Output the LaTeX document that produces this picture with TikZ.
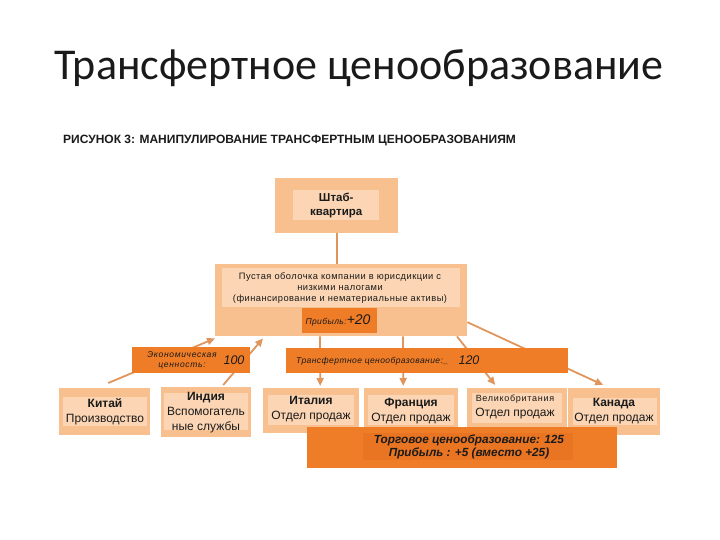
\documentclass[tikz,border=0pt]{standalone}
\usepackage{fontspec}
\setmainfont{Liberation Sans}
\newfontfamily\titlefont{Carlito}
\newfontfamily\spacedfont[LetterSpace=8]{Liberation Sans}
\newfontfamily\tightfont[LetterSpace=5]{Liberation Sans}
\usetikzlibrary{arrows.meta,backgrounds}
\definecolor{outerC}{HTML}{F8C08E}
\definecolor{innerC}{HTML}{FCD6B4}
\definecolor{darkC}{HTML}{EF7C26}
\definecolor{darkinC}{HTML}{E97422}
\definecolor{lineC}{HTML}{E0955C}
\definecolor{txtC}{HTML}{1A1A1A}
\tikzset{
  outerbox/.style={fill=outerC, draw=none, anchor=north west, inner sep=0pt},
  innerbox/.style={fill=innerC, draw=none, anchor=north west, inner sep=0pt},
  darkbox/.style={fill=darkC, draw=none, anchor=north west, inner sep=0pt},
  darkin/.style={fill=darkinC, draw=none, anchor=north west, inner sep=0pt},
  lbl/.style={text=txtC, inner sep=0pt, align=center},
  conn/.style={draw=lineC, line width=1.8pt},
  arr/.style={conn, -{Triangle[length=8pt,width=7pt]}}
}
\begin{document}
\begin{tikzpicture}[x=1pt,y=-1pt]
\useasboundingbox (0,0) rectangle (720,540);
% title
\node (title) [lbl, font=\titlefont\fontsize{44}{50}\selectfont] at (359,68) {Трансфертное ценообразование};
\node (sub) [lbl, anchor=west, font=\bfseries\fontsize{12}{14}\selectfont] at (63,141) {РИСУНОК 3: МАНИПУЛИРОВАНИЕ ТРАНСФЕРТНЫМ ЦЕНООБРАЗОВАНИЯМ};
% HQ
\node (hq) [outerbox, minimum width=123pt, minimum height=55pt] at (275,178) {};
\node (hqin) [innerbox, minimum width=86pt, minimum height=30pt] at (293,190) {};
\node (hqt) [lbl, font=\bfseries\fontsize{11.5}{14}\selectfont] at (hqin.center) {Штаб-\\квартира};
% shell
\node (shell) [outerbox, minimum width=252pt, minimum height=72pt] at (215,264) {};
\node (shellin) [innerbox, minimum width=238pt, minimum height=39pt] at (222,268) {};
\node (shellt) [lbl, font=\tightfont\fontsize{9.3}{10.8}\selectfont] at (340,288) {Пустая оболочка компании в юрисдикции с\\низкими налогами\\(финансирование и нематериальные активы)};
\node (profit) [darkbox, minimum width=75pt, minimum height=25pt] at (302,308) {};
\node (profitt) [lbl] at (338,320) {{\tightfont\itshape\fontsize{8.5}{9}\selectfont Прибыль:}{\itshape\fontsize{14}{15}\selectfont +20}};
% econ value
\node (econ) [darkbox, minimum width=118pt, minimum height=26pt] at (132,347) {};
\node (econt) [lbl, font=\spacedfont\itshape\fontsize{8.5}{10}\selectfont] at (182,360) {Экономическая\\ценность:};
\node (econv) [lbl, font=\itshape\fontsize{12.5}{13}\selectfont] at (234,360) {100};
% transfer
\node (tr) [darkbox, minimum width=282pt, minimum height=25pt] at (286,348) {};
\node (trt) [lbl, anchor=west, font=\tightfont\itshape\fontsize{8.5}{10}\selectfont] at (296,361) {Трансфертное ценообразование:\_};
\node (trv) [lbl, font=\itshape\fontsize{12.5}{13}\selectfont] at (469,360) {120};
% bottom boxes
\node (china) [outerbox, minimum width=91pt, minimum height=47pt] at (59,388) {};
\node (chinain) [innerbox, minimum width=84pt, minimum height=29pt] at (63,397) {};
\node (chinat) [lbl, font=\fontsize{12}{15}\selectfont] at (105,412) {\textbf{Китай}\\Производство};
\node (india) [outerbox, minimum width=90pt, minimum height=50pt] at (161,387) {};
\node (indiain) [innerbox, minimum width=84pt, minimum height=37pt] at (164,393) {};
\node (indiat) [lbl, font=\fontsize{12}{15}\selectfont] at (206,413) {\textbf{Индия}\\Вспомогатель\\ные службы};
\node (italia) [outerbox, minimum width=96pt, minimum height=45pt] at (263,388) {};
\node (italiain) [innerbox, minimum width=86pt, minimum height=30pt] at (268,395) {};
\node (italiat) [lbl, font=\fontsize{12}{15}\selectfont] at (311,409) {\textbf{Италия}\\Отдел продаж};
\node (france) [outerbox, minimum width=94pt, minimum height=45pt] at (364,388) {};
\node (francein) [innerbox, minimum width=86pt, minimum height=30pt] at (368,395) {};
\node (francet) [lbl, font=\fontsize{12}{15}\selectfont] at (411,411) {\textbf{Франция}\\Отдел продаж};
\node (uk) [outerbox, minimum width=100pt, minimum height=45pt] at (467,388) {};
\node (ukin) [innerbox, minimum width=90pt, minimum height=30pt] at (472,393) {};
\node (ukt) [lbl] at (515,407) {{\spacedfont\fontsize{9}{10}\selectfont Великобритания}\\[3pt]{\fontsize{12}{13}\selectfont Отдел продаж}};
\node (canada) [outerbox, minimum width=92pt, minimum height=47pt] at (568,388) {};
\node (canadain) [innerbox, minimum width=84pt, minimum height=27pt] at (573,398) {};
\node (canadat) [lbl, font=\fontsize{12}{15}\selectfont] at (614,411) {\textbf{Канада}\\Отдел продаж};
% trade
\node (trade) [darkbox, minimum width=310pt, minimum height=41pt] at (307,427) {};
\node (tradein) [darkin, minimum width=210pt, minimum height=27pt] at (363,433) {};
\node (tradet) [lbl, font=\bfseries\itshape\fontsize{11.8}{13}\selectfont] at (469,447) {Торговое ценообразование: 125\\Прибыль : +5 (вместо +25)};
% connectors
\begin{scope}[on background layer]
\draw[conn] (hq.south) -- (hq.south |- shell.north);
\draw[arr] ([shift={(3.5,-5)}]china.north) -- ([shift={(0,2)}]shell.south west);
\draw[arr] ([shift={(17,-2)}]india.north) -- ([shift={(48,2)}]shell.south west);
\draw[arr] ([shift={(105,0)}]shell.south west) -- ([shift={(9,-2)}]italia.north);
\draw[arr] ([shift={(188,0)}]shell.south west) -- ([shift={(-8,-2)}]france.north);
\draw[arr] ([shift={(242,0)}]shell.south west) -- ([shift={(-22,-3)}]uk.north);
\draw[arr] ([shift={(0,22)}]shell.east) -- ([shift={(-11,-3)}]canada.north);
\end{scope}
\end{tikzpicture}
\end{document}
